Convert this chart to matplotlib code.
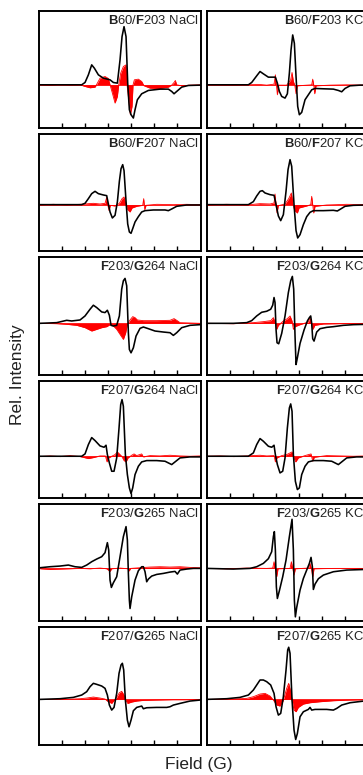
import matplotlib
matplotlib.use("Agg")
import matplotlib.pyplot as plt
import numpy as np

plt.rcParams['font.family'] = ['Liberation Sans', 'DejaVu Sans']
plt.rcParams['mathtext.fontset'] = 'custom'
plt.rcParams['mathtext.rm'] = 'Liberation Sans'
plt.rcParams['mathtext.bf'] = 'Liberation Sans:bold'

# ---------------- data (field in arbitrary units, intensity in arbitrary units) ----------------
ROW_PAIRS = [("B60", "F203"), ("B60", "F207"), ("F203", "G264"),
             ("F207", "G264"), ("F203", "G265"), ("F207", "G265")]
SALTS = ["NaCl", "KCl"]
FIELD_TICKS = [69, 139, 208, 278, 347, 416]

# Row 1: B60/F203
r1_nacl_bx = [4, 129, 139, 149, 159, 167, 179, 194, 214, 224, 236, 244, 250, 256, 262, 267, 272, 277, 284, 289, 296, 309, 329, 364, 389, 399, 406, 414, 429, 449, 484]
r1_nacl_by = [0, 0, 7, 30, 60, 50, 30, 20, 15, 7, 5, 75, 145, 175, 145, 5, -75, -90, -100, -75, -45, -27, -17, -13, -13, -20, -27, -20, -7, -2, -1]
r1_nacl_rx = [4, 34, 64, 94, 124, 139, 154, 169, 176, 184, 199, 209, 214, 221, 229, 236, 240, 246, 254, 262, 265, 270, 275, 280, 283, 287, 299, 309, 316, 334, 364, 389, 399, 406, 410, 414, 429, 454, 484]
r1_nacl_ry = [0, -2, 1, -1, 0, -5, -9, -7, 5, 20, 25, 19, 0, -25, -55, -35, 0, 35, 55, 60, 0, -45, -90, -65, 0, 15, 17, 10, -3, -10, -11, -7, -1, 7, 13, 0, -3, -1, 0]
r1_kcl_bx = [0, 125, 135, 150, 160, 170, 185, 206, 212, 218, 225, 235, 242, 248, 253, 258, 263, 268, 273, 278, 285, 295, 305, 315, 325, 350, 380, 395, 405, 415, 430, 460, 480]
r1_kcl_by = [0, 0, 7, 27, 40, 33, 23, 23, 5, -20, -35, -40, -27, 35, 105, 150, 125, 25, -65, -90, -83, -45, -30, -15, -11, -12, -13, -17, -21, -11, -3, -1, -1]
r1_kcl_rx = [0, 80, 160, 180, 202, 206, 209, 212, 216, 240, 252, 256, 260, 264, 268, 272, 315, 318, 321, 324, 328, 370, 420, 480]
r1_kcl_ry = [0, -1, 1, -1, 2, 30, 0, -30, -1, -1, 15, 37, 10, 0, -27, -3, 0, 17, 0, -27, -3, -1, 0, -1]

# Row 2: B60/F207
r2_nacl_bx = [4, 129, 139, 149, 159, 169, 179, 194, 204, 209, 214, 221, 229, 236, 242, 247, 252, 256, 262, 267, 272, 277, 282, 289, 299, 309, 319, 344, 379, 389, 399, 414, 444, 484]
r2_nacl_by = [0, 0, 4, 18, 33, 40, 33, 29, 27, 2, -22, -40, -32, 8, 70, 108, 120, 102, 10, -58, -82, -86, -72, -52, -36, -22, -18, -16, -16, -18, -13, -5, -1, -1]
r2_nacl_rx = [4, 44, 84, 124, 164, 184, 199, 204, 207, 211, 215, 229, 242, 250, 256, 262, 267, 274, 280, 294, 312, 315, 318, 322, 354, 404, 444, 484]
r2_nacl_ry = [-1, 1, -1, 1, 4, 2, 4, 22, 0, -18, -2, -4, 4, 18, 23, 0, -15, -22, -10, -5, -2, 18, -15, -2, 1, 0, 1, 0]
r2_kcl_bx = [0, 125, 140, 150, 160, 167, 175, 190, 202, 208, 215, 222, 230, 238, 244, 250, 255, 262, 268, 273, 280, 290, 300, 310, 320, 350, 380, 392, 402, 415, 440, 480]
r2_kcl_by = [0, 0, 9, 26, 40, 42, 35, 30, 28, 0, -34, -48, -30, 40, 105, 135, 115, 0, -78, -100, -90, -60, -36, -23, -18, -18, -17, -19, -13, -5, -2, -1]
r2_kcl_rx = [0, 60, 120, 160, 190, 202, 205, 208, 211, 215, 235, 246, 254, 259, 264, 272, 277, 300, 312, 315, 318, 321, 325, 360, 420, 480]
r2_kcl_ry = [-1, 1, -1, 3, 2, 5, 32, 0, -25, -3, 2, 18, 35, 0, -18, -25, -10, -4, 0, 25, 0, -25, -5, -1, 1, 0]

# Row 3: F203/G264
r3_nacl_bx = [4, 54, 84, 99, 124, 139, 154, 164, 174, 189, 199, 206, 212, 217, 224, 234, 242, 249, 254, 259, 264, 269, 272, 277, 284, 292, 304, 314, 329, 349, 374, 394, 404, 414, 429, 454, 484]
r3_nacl_by = [0, 2, 9, 7, 10, 22, 42, 54, 47, 34, 32, 39, 24, -6, -8, -6, 22, 102, 127, 134, 112, -28, -78, -88, -73, -38, -15, -11, -16, -23, -26, -28, -36, -28, -13, -6, -4]
r3_nacl_rx = [4, 54, 84, 114, 139, 159, 174, 189, 204, 214, 224, 234, 244, 254, 261, 266, 274, 282, 289, 296, 314, 354, 394, 406, 414, 424, 454, 484]
r3_nacl_ry = [0, -1, -3, -6, -13, -23, -18, -13, -10, -4, -8, -18, -33, -48, -28, -3, 10, 20, 17, 10, 8, 8, 9, 14, 9, 2, 1, 0]
r3_kcl_bx = [0, 80, 120, 135, 150, 165, 180, 192, 198, 202, 205, 208, 211, 216, 225, 235, 245, 252, 257, 261, 265, 268, 272, 280, 292, 302, 308, 312, 315, 318, 322, 330, 340, 360, 380, 410, 440, 480]
r3_kcl_by = [0, 0, 2, 8, 22, 33, 36, 42, 54, 77, 62, -18, -58, -61, -30, 22, 92, 127, 140, 102, -38, -123, -103, -60, -20, 7, 17, 22, 0, -46, -53, -26, -16, -12, -10, -6, -4, -3]
r3_kcl_rx = [0, 80, 140, 170, 192, 200, 206, 210, 215, 230, 242, 250, 256, 260, 265, 280, 305, 310, 314, 319, 324, 350, 400, 480]
r3_kcl_ry = [0, -1, 2, 5, 8, 17, 0, -18, -6, 7, 14, 22, 7, -18, -10, -4, 4, 17, 0, -18, -6, -2, -1, 0]

# Row 4: F207/G264
r4_nacl_bx = [4, 129, 139, 149, 159, 169, 184, 196, 202, 206, 212, 219, 226, 234, 241, 246, 250, 254, 260, 266, 272, 277, 282, 289, 299, 309, 324, 354, 379, 389, 399, 409, 424, 454, 484]
r4_nacl_by = [0, 0, 7, 35, 56, 47, 31, 27, 33, 5, -20, -45, -45, -5, 85, 155, 170, 150, 5, -55, -95, -112, -95, -55, -30, -17, -13, -13, -15, -20, -25, -17, -5, -2, -2]
r4_nacl_rx = [4, 34, 64, 94, 124, 149, 164, 184, 200, 205, 210, 219, 229, 236, 242, 249, 256, 262, 268, 279, 286, 294, 309, 314, 334, 364, 394, 424, 454, 484]
r4_nacl_ry = [-1, 1, -1, 2, -1, -7, -4, 1, 1, -17, -5, 0, 5, 13, 7, 0, -13, -17, -5, 3, 7, 2, 7, -2, 2, 1, 3, 1, 0, 1]
r4_kcl_bx = [0, 125, 140, 150, 160, 170, 185, 195, 202, 206, 212, 220, 228, 235, 242, 248, 252, 256, 260, 266, 272, 278, 285, 295, 305, 320, 350, 375, 385, 395, 405, 420, 450, 480]
r4_kcl_by = [0, 0, 10, 35, 53, 45, 30, 27, 33, 5, -25, -50, -45, -5, 85, 145, 157, 135, 5, -75, -100, -95, -55, -30, -17, -13, -13, -15, -20, -25, -17, -5, -2, -2]
r4_kcl_rx = [0, 40, 80, 120, 160, 180, 202, 206, 211, 225, 240, 250, 256, 262, 267, 275, 295, 313, 318, 323, 360, 400, 440, 480]
r4_kcl_ry = [0, 1, -1, 1, 3, 1, 2, -17, -5, 2, 5, 10, 13, -5, -17, -5, 2, 7, -15, -3, 2, 1, 0, 1]

# Row 5: F203/G265
r5_nacl_bx = [4, 34, 64, 89, 109, 129, 144, 159, 174, 189, 199, 206, 210, 214, 218, 224, 234, 244, 254, 262, 266, 269, 272, 274, 279, 289, 299, 309, 314, 319, 324, 329, 339, 354, 374, 394, 409, 416, 424, 444, 464, 484]
r5_nacl_by = [2, 5, 7, 10, 5, 3, 10, 20, 28, 35, 47, 77, 55, -35, -57, -43, -25, 35, 95, 125, 85, -15, -95, -120, -85, -35, -7, 5, 5, -10, -40, -32, -23, -18, -15, -11, -9, -17, -5, -2, 0, 0]
r5_nacl_rx = [4, 34, 64, 94, 124, 154, 184, 204, 214, 219, 244, 268, 271, 276, 304, 334, 364, 394, 424, 454, 484]
r5_nacl_ry = [-1, -3, -2, -1, 0, -1, 1, -1, -9, -1, 1, -1, -8, 0, 2, 4, 5, 4, 5, 3, 2]
r5_kcl_bx = [0, 80, 130, 150, 170, 185, 195, 200, 203, 206, 209, 212, 218, 228, 238, 248, 256, 260, 263, 266, 270, 280, 290, 300, 308, 313, 317, 320, 325, 335, 350, 380, 420, 480]
r5_kcl_by = [0, -2, 0, 5, 15, 29, 50, 95, 110, 55, -55, -90, -67, -25, 25, 95, 147, 55, -95, -145, -117, -65, -30, -5, 15, 33, 5, -63, -47, -31, -20, -10, -5, -3]
r5_kcl_rx = [0, 60, 120, 180, 198, 202, 206, 210, 214, 250, 254, 258, 262, 266, 306, 310, 314, 318, 322, 380, 480]
r5_kcl_ry = [0, -1, 1, 0, 1, 20, 0, -25, -1, 0, 20, 0, -20, -1, 1, 15, 0, -25, -1, 0, 0]

# Row 6: F207/G265
r6_nacl_bx = [4, 64, 104, 129, 144, 154, 164, 174, 189, 199, 206, 212, 219, 226, 234, 241, 247, 251, 255, 260, 266, 271, 277, 284, 294, 309, 314, 324, 354, 384, 394, 404, 424, 454, 484]
r6_nacl_by = [0, 2, 6, 13, 23, 38, 48, 45, 40, 33, 13, -17, -32, -24, 18, 78, 103, 108, 88, -2, -62, -82, -62, -34, -24, -20, -28, -25, -24, -24, -22, -17, -12, -5, -2]
r6_nacl_rx = [4, 84, 124, 144, 164, 184, 199, 206, 219, 227, 234, 242, 249, 256, 261, 267, 279, 294, 314, 354, 404, 444, 484]
r6_nacl_ry = [0, 0, 2, 4, 7, 4, 1, -5, -12, -2, 6, 20, 24, 13, -2, -12, -8, -5, -3, -2, -1, -1, 0]
r6_kcl_bx = [0, 60, 100, 125, 140, 150, 160, 170, 180, 192, 202, 208, 215, 222, 230, 238, 243, 246, 250, 256, 262, 267, 272, 280, 290, 305, 310, 315, 325, 360, 380, 390, 405, 430, 480]
r6_kcl_by = [0, 2, 6, 13, 28, 43, 58, 58, 53, 43, 18, -22, -47, -42, 8, 88, 148, 156, 138, -2, -92, -120, -102, -52, -37, -30, -24, -32, -30, -30, -32, -27, -17, -10, -4]
r6_kcl_rx = [0, 80, 120, 140, 160, 175, 190, 200, 210, 220, 228, 233, 240, 246, 252, 256, 262, 268, 275, 290, 310, 340, 380, 430, 480]
r6_kcl_ry = [0, 1, 3, 8, 16, 18, 10, -2, -17, -20, -7, 8, 33, 48, 23, -2, -32, -37, -24, -14, -10, -7, -4, -2, -1]

PANELS = [
    [(r1_nacl_bx, r1_nacl_by, r1_nacl_rx, r1_nacl_ry), (r1_kcl_bx, r1_kcl_by, r1_kcl_rx, r1_kcl_ry)],
    [(r2_nacl_bx, r2_nacl_by, r2_nacl_rx, r2_nacl_ry), (r2_kcl_bx, r2_kcl_by, r2_kcl_rx, r2_kcl_ry)],
    [(r3_nacl_bx, r3_nacl_by, r3_nacl_rx, r3_nacl_ry), (r3_kcl_bx, r3_kcl_by, r3_kcl_rx, r3_kcl_ry)],
    [(r4_nacl_bx, r4_nacl_by, r4_nacl_rx, r4_nacl_ry), (r4_kcl_bx, r4_kcl_by, r4_kcl_rx, r4_kcl_ry)],
    [(r5_nacl_bx, r5_nacl_by, r5_nacl_rx, r5_nacl_ry), (r5_kcl_bx, r5_kcl_by, r5_kcl_rx, r5_kcl_ry)],
    [(r6_nacl_bx, r6_nacl_by, r6_nacl_rx, r6_nacl_ry), (r6_kcl_bx, r6_kcl_by, r6_kcl_rx, r6_kcl_ry)],
]
ROW_YLIM = [(-130, 223), (-140, 212), (-153, 197), (-125, 227), (-158, 193), (-135, 216)]

# ---------------- layout ----------------
W, H = 363, 775
fig = plt.figure(figsize=(W / 100, H / 100), dpi=100)

col_left_px = [38.7, 206.7]
panel_w_px = 162.0
panel_h_px = 117.3
row_top0 = 10.7
row_step = 123.3


def label_text(pair, salt):
    a, b = pair
    return (r"$\mathbf{%s}$%s/$\mathbf{%s}$%s %s" % (a[0], a[1:], b[0], b[1:], salt))


for r in range(6):
    top = row_top0 + r * row_step
    for c in range(2):
        bx, by, rx, ry = PANELS[r][c]
        ax = fig.add_axes([col_left_px[c] / W, 1 - (top + panel_h_px) / H,
                           panel_w_px / W, panel_h_px / H])
        ax.fill_between(rx, ry, 0, color='#ff0000', lw=0, zorder=1)
        ax.plot(rx, ry, color='#ff0000', lw=0.6, zorder=2)
        ax.axhline(0, color='#ff0000', lw=0.6, zorder=1.5)
        ax.plot(bx, by, color='black', lw=1.15, zorder=3,
                solid_joinstyle='round')
        ax.set_xlim(0, 486)
        ax.set_ylim(*ROW_YLIM[r])
        ax.set_xticks(FIELD_TICKS)
        ax.set_xticklabels([])
        ax.set_yticks([])
        ax.tick_params(axis='x', direction='in', length=3.6, width=1.0,
                       bottom=True, top=False)
        for s in ax.spines.values():
            s.set_linewidth(1.4)
        ax.text(0.988, 0.975, label_text(ROW_PAIRS[r], SALTS[c]),
                transform=ax.transAxes, ha='right', va='top',
                fontsize=9.4, color='#222222')

fig.text(18 / W, 1 - 375 / H, "Rel. Intensity", rotation=90,
         ha='center', va='center', fontsize=12.5, color='#222222')
fig.text(199 / W, 1 - 764 / H, "Field (G)", ha='center', va='center',
         fontsize=12.5, color='#222222')

fig.savefig("out.png", dpi=100)
